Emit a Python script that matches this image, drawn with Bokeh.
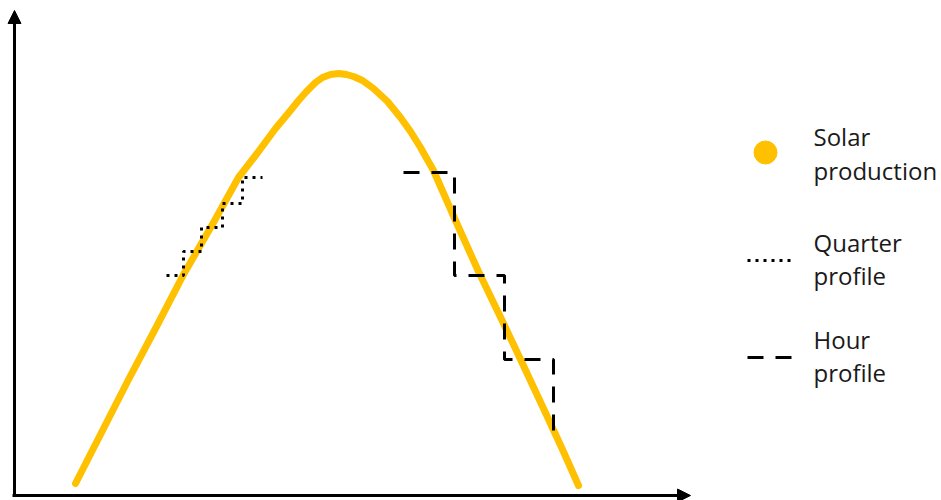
from bokeh.plotting import figure
from bokeh.models import Range1d, Arrow, NormalHead, Label
from bokeh.embed import file_html
from bokeh.resources import INLINE

# ---- data (arbitrary units: x = time, y = power) ----
curve_x = [75, 100, 127, 155, 183, 213, 238, 255, 275, 290, 298, 306, 315, 322, 330, 338,
           346, 353, 362, 373, 387, 400, 410, 420, 433, 455, 478, 504, 521, 543, 562, 578]
curve_y = [17, 66, 119, 172, 226, 278, 323, 345, 372, 390, 400, 409, 418, 423, 426, 427,
           426, 424, 420, 412, 399, 383, 369, 353, 330, 280, 229, 175, 139, 92, 51, 15]

quarter_edges = [166, 183, 201, 222, 242, 262]
quarter_levels = [225, 249, 273, 297, 323]

hour_edges = [403, 454, 504, 553]
hour_levels = [328, 225, 141]
hour_end = 63

legend_labels = [["Solar", "production"], ["Quarter", "profile"], ["Hour", "profile"]]

YELLOW = "#FFC000"
INK = "#1a1a1a"


def step_path(edges, levels, end=None):
    xs, ys = [], []
    for i, lv in enumerate(levels):
        xs += [edges[i], edges[i + 1]]
        ys += [lv, lv]
    if end is not None:
        xs.append(edges[-1])
        ys.append(end)
    return xs, ys


p = figure(width=941, height=500, x_range=Range1d(0, 941), y_range=Range1d(0, 500),
           output_backend="svg", toolbar_location=None, min_border=0,
           x_axis_type=None, y_axis_type=None)
p.grid.visible = False
p.outline_line_color = None
p.background_fill_color = "white"
p.border_fill_color = "white"

# axes with arrow heads
p.add_layout(Arrow(end=NormalHead(size=13, fill_color="black", line_color="black", line_width=1),
                   x_start=14, y_start=5, x_end=14, y_end=490, line_width=3, line_color="black"))
p.add_layout(Arrow(end=NormalHead(size=13, fill_color="black", line_color="black", line_width=1),
                   x_start=12, y_start=5, x_end=690, y_end=5, line_width=3, line_color="black"))

# solar production curve
p.line(curve_x, curve_y, line_color=YELLOW, line_width=7, line_cap="round", line_join="round")

# quarter profile (dotted)
qx, qy = step_path(quarter_edges, quarter_levels)
p.line(qx, qy, line_color="black", line_width=3, line_dash="3 5")

# hour profile (dashed)
hx, hy = step_path(hour_edges, hour_levels, hour_end)
p.line(hx, hy, line_color="black", line_width=3, line_dash="16 12")

# legend (drawn manually)
p.scatter([765], [348], size=23, fill_color=YELLOW, line_color=YELLOW, marker="circle")
p.line([747, 791], [240, 240], line_color="black", line_width=3, line_dash="3 5")
p.line([747, 791], [143, 143], line_color="black", line_width=3, line_dash="16 12")

baselines = [[364, 330], [258, 225], [161, 128]]
for lines, ys in zip(legend_labels, baselines):
    for t, yb in zip(lines, ys):
        p.add_layout(Label(x=813, y=yb, text=t, text_baseline="alphabetic",
                           text_font="Open Sans", text_font_size="24px", text_color=INK))

open("out.html", "w").write(file_html(p, INLINE))
